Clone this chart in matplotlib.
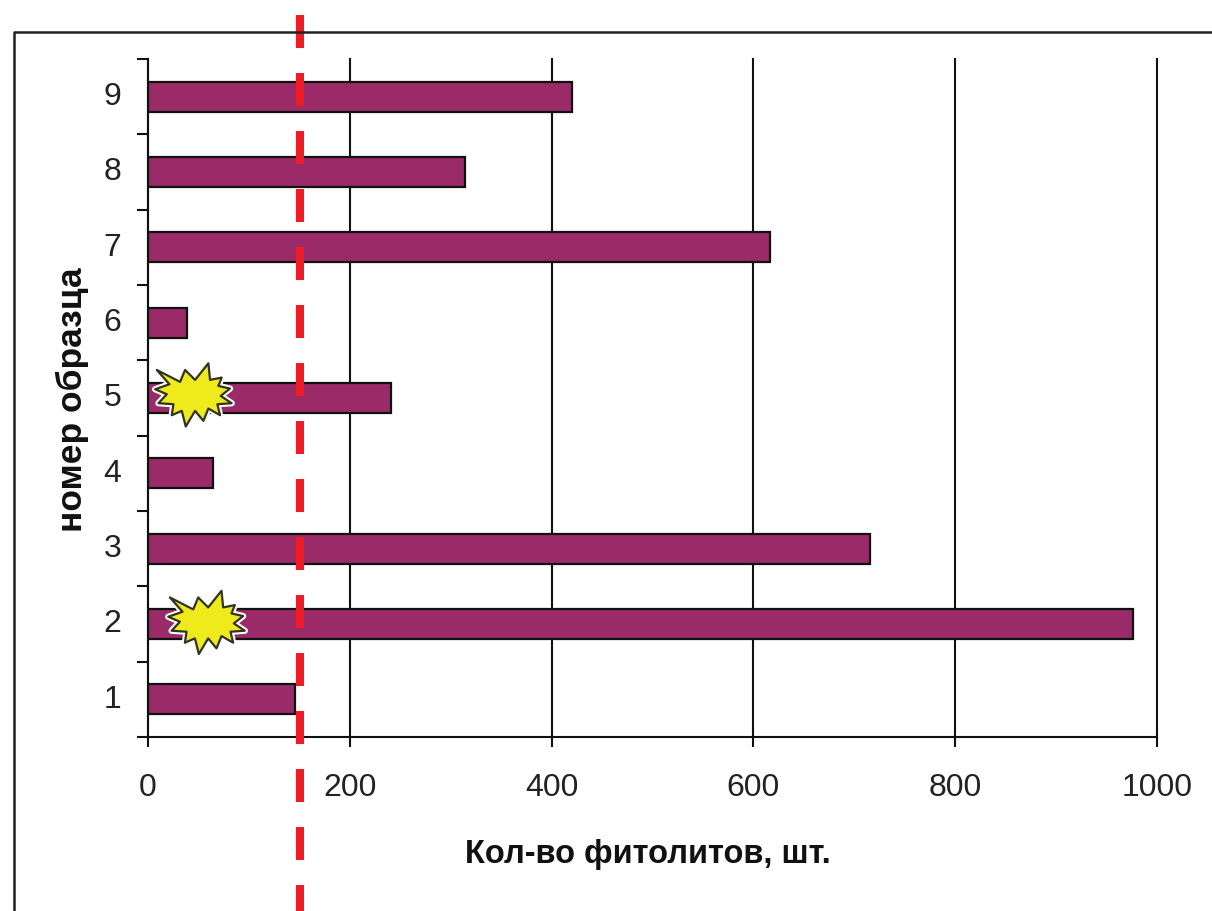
import numpy as np
import matplotlib
matplotlib.use('Agg')
import matplotlib.pyplot as plt
from matplotlib.path import Path
from matplotlib.transforms import ScaledTranslation
import matplotlib.patheffects as pe

samples = ['1', '2', '3', '4', '5', '6', '7', '8', '9']
counts = [146, 976, 716, 64, 241, 39, 616, 314, 420]
x_ticks = [0, 200, 400, 600, 800, 1000]
limit_value = 150
# samples marked with a burst
star_y = [2.03, 5.05]
star_x = [58, 45]

plt.rcParams['font.family'] = ['Liberation Sans', 'DejaVu Sans']

W, H = 1212, 912
fig = plt.figure(figsize=(W/100, H/100), dpi=100)

# axes box from pixel positions of the reference
left, right, top, bottom = 148, 1157, 60, 738
ax = fig.add_axes([left/W, 1-bottom/H, (right-left)/W, (bottom-top)/H])
ax.set_xlim(0, 1000)
ax.set_ylim(0.5, 9.5)

y = np.arange(1, 10)
ax.barh(y, counts, height=0.4, color='#9b2a68', edgecolor='#111111', linewidth=1.6, zorder=3)

ax.set_xticks(x_ticks)
ax.set_xticklabels([str(v) for v in x_ticks], fontsize=23, color='#222222')
ax.set_yticks(y)
ax.set_yticklabels(samples, fontsize=23, color='#222222')
ax.set_yticks(np.arange(0.5, 10, 1), minor=True)
ax.tick_params(axis='y', which='major', length=0, pad=19)
ax.tick_params(axis='y', which='minor', length=8, width=1.5, color='#111111', direction='out')
ax.tick_params(axis='x', length=7, width=1.5, color='#111111', direction='out', pad=18)
ax.grid(axis='x', color='#111111', linewidth=1.5, zorder=1)
for g in ax.get_xgridlines():
    g.set_clip_on(False)
# numbers sit a little above the bar centres
for t in ax.get_yticklabels():
    t.set_transform(t.get_transform() + ScaledTranslation(0, 3/72, fig.dpi_scale_trans))
for s in ['top', 'right']:
    ax.spines[s].set_visible(False)
for s in ['left', 'bottom']:
    ax.spines[s].set_linewidth(1.5)
    ax.spines[s].set_color('#111111')

ax.set_xlabel('Кол-во фитолитов, шт.', fontsize=23.5, fontweight='bold', color='#111111', va='center')
ax.xaxis.set_label_coords(0.4955, -0.172)
ax.set_ylabel('номер образца', fontsize=25.5, fontweight='bold', color='#111111', va='center')
ax.yaxis.set_label_coords(-0.0753, 0.4985)

# red dashed threshold, runs past the axes on both sides
ax.plot([limit_value + 0.6, limit_value + 0.6], [1.065, -0.2566], transform=ax.get_xaxis_transform(),
        color='#ee1c25', linewidth=5.8, linestyle=(0, (4.1, 3.1)), dash_capstyle='butt',
        clip_on=False, zorder=5)

# yellow bursts, outline
burst = [(80, 92), (150, 128), (165, 92), (195, 122), (235, 72), (240, 122), (275, 115),
         (265, 140), (300, 148), (272, 170), (305, 192), (262, 195), (270, 228), (235, 208),
         (220, 245), (195, 215), (167, 262), (155, 215), (125, 228), (130, 195), (85, 192),
         (110, 165), (75, 150), (118, 135), (80, 92)]
verts = [(bx-190, 165-by) for bx, by in burst]
ax.scatter(star_x, star_y, marker=Path(verts, closed=True), s=3040, color='#eeea1c',
           edgecolor='#333322', linewidth=1.6, zorder=6,
           path_effects=[pe.withStroke(linewidth=4.5, foreground='white')])

# outer frame of the figure
fig.add_artist(plt.Line2D([14/W, 14/W, 1], [0, 1-33/H, 1-33/H], color='#222222', linewidth=1.8))

fig.savefig('out.png', dpi=100)
